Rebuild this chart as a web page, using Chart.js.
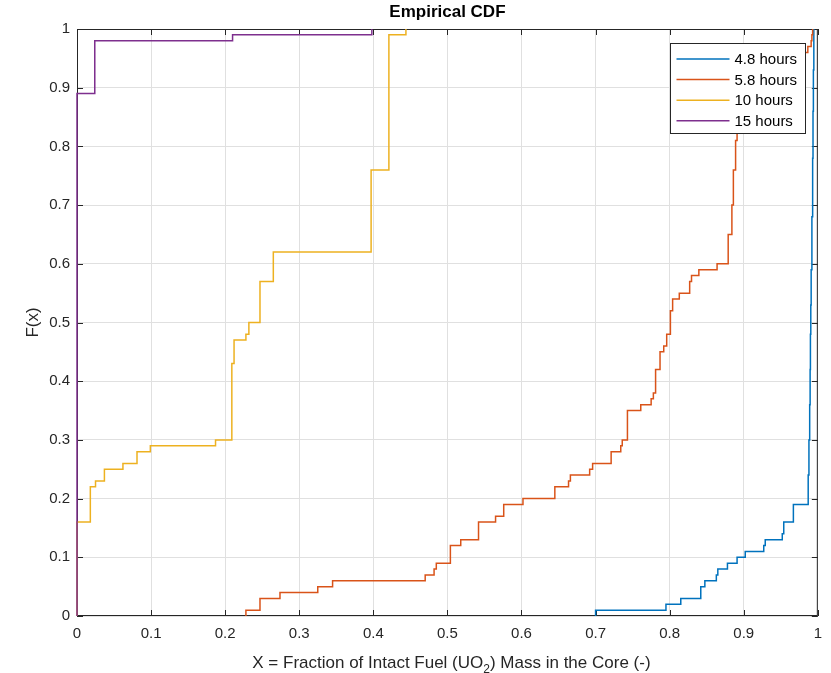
<!DOCTYPE html>
<html>
<head>
<meta charset="utf-8">
<script src="https://cdn.jsdelivr.net/npm/chart.js@4.4.0/dist/chart.umd.min.js"></script>
<style>
  html, body { margin: 0; padding: 0; background: #fff; }
</style>
</head>
<body>
<canvas id="cdf" width="831" height="673"></canvas>
<script>
// empirical CDF of intact fuel fraction, one step curve per time
let seriesLabels = ["4.8 hours", "5.8 hours", "10 hours", "15 hours"];
let seriesColors = ["#0072BD", "#D95319", "#EDB120", "#7E2F8E"];

let h48X = [0.700, 0.700, 0.795, 0.815, 0.842, 0.8475, 0.863, 0.865, 0.878, 0.891, 0.902, 0.927, 0.929, 0.952, 0.954, 0.967, 0.9865,
  0.987, 0.988, 0.989, 0.9896, 0.990, 0.9905, 0.991, 0.992, 0.993, 0.9935, 0.994, 0.9946];
let h48F = [0, 0.01, 0.02, 0.03, 0.05, 0.06, 0.07, 0.08, 0.09, 0.10, 0.11, 0.12, 0.13, 0.14, 0.16, 0.19, 0.19,
  0.24, 0.30, 0.36, 0.42, 0.48, 0.53, 0.59, 0.68, 0.78, 0.86, 0.93, 1.0];

let h58X = [0.228, 0.228, 0.247, 0.274, 0.325, 0.345, 0.470, 0.482, 0.485, 0.504, 0.518, 0.542, 0.565, 0.576, 0.602, 0.645, 0.6635, 0.666,
  0.692, 0.696, 0.721, 0.734, 0.736, 0.743, 0.761, 0.775, 0.778, 0.781, 0.787, 0.792, 0.796, 0.801, 0.804, 0.813, 0.827, 0.8295, 0.8394,
  0.864, 0.879, 0.884, 0.886, 0.889, 0.891, 0.893, 0.900, 0.915, 0.935, 0.955, 0.970, 0.978, 0.9865, 0.991, 0.992, 0.993];
let h58F = [0, 0.01, 0.03, 0.04, 0.05, 0.06, 0.07, 0.08, 0.09, 0.12, 0.13, 0.16, 0.17, 0.19, 0.20, 0.22, 0.23, 0.24,
  0.25, 0.26, 0.28, 0.29, 0.30, 0.35, 0.36, 0.37, 0.38, 0.42, 0.45, 0.46, 0.48, 0.52, 0.54, 0.55, 0.57, 0.58, 0.59,
  0.60, 0.65, 0.70, 0.76, 0.81, 0.84, 0.87, 0.89, 0.91, 0.93, 0.94, 0.95, 0.96, 0.97, 0.98, 0.99, 1.0];

let h10X = [0, 0, 0.018, 0.025, 0.037, 0.062, 0.081, 0.099, 0.187, 0.209, 0.212, 0.228, 0.232, 0.247, 0.265, 0.397, 0.421, 0.444];
let h10F = [0, 0.16, 0.22, 0.23, 0.25, 0.26, 0.28, 0.29, 0.30, 0.43, 0.47, 0.48, 0.50, 0.57, 0.62, 0.76, 0.99, 1.0];

let h15X = [0, 0, 0.024, 0.210, 0.398];
let h15F = [0, 0.89, 0.98, 0.99, 1.0];

let xTickLabels = ["0", "0.1", "0.2", "0.3", "0.4", "0.5", "0.6", "0.7", "0.8", "0.9", "1"];
let yTickLabels = ["0", "0.1", "0.2", "0.3", "0.4", "0.5", "0.6", "0.7", "0.8", "0.9", "1"];

const FONT = '"Liberation Sans", Arial, Helvetica, sans-serif';
const AXIS_COLOR = "#262626";
const GRID_COLOR = "#e0e0e0";

function toPoints(xs, fs) {
  return xs.map((x, i) => ({ x: x, y: fs[i] }));
}

let curves = [[h48X, h48F], [h58X, h58F], [h10X, h10F], [h15X, h15F]];
let datasets = curves.map((c, i) => ({
  label: seriesLabels[i],
  data: toPoints(c[0], c[1]),
  borderColor: seriesColors[i],
  backgroundColor: seriesColors[i],
  borderWidth: 1.5,
  pointRadius: 0,
  stepped: true,
  fill: false,
  clip: 3,
  order: 3 - i
}));

// box round the axes with inward ticks on all four sides
const axesBox = {
  id: "axesBox",
  beforeDatasetsDraw(chart) {
    const { ctx, chartArea: a, scales } = chart;
    ctx.save();
    ctx.strokeStyle = AXIS_COLOR;
    ctx.lineWidth = 1;
    ctx.strokeRect(a.left + 0.5, a.top + 0.5, a.right - a.left - 1, a.bottom - a.top - 1);
    ctx.beginPath();
    scales.x.ticks.forEach(t => {
      let px = Math.round(scales.x.getPixelForValue(t.value)) + 0.5;
      ctx.moveTo(px, a.bottom); ctx.lineTo(px, a.bottom - 6);
      ctx.moveTo(px, a.top); ctx.lineTo(px, a.top + 6);
    });
    scales.y.ticks.forEach(t => {
      let py = Math.round(scales.y.getPixelForValue(t.value)) + 0.5;
      ctx.moveTo(a.left, py); ctx.lineTo(a.left + 6, py);
      ctx.moveTo(a.right, py); ctx.lineTo(a.right - 6, py);
    });
    ctx.stroke();
    ctx.restore();
  }
};

// legend box in the upper right corner of the axes
const cdfLegend = {
  id: "cdfLegend",
  afterDatasetsDraw(chart) {
    const ctx = chart.ctx;
    const bx = 670.5, by = 43.5, bw = 135, bh = 90;
    ctx.save();
    ctx.fillStyle = "#fff";
    ctx.fillRect(bx, by, bw, bh);
    ctx.strokeStyle = AXIS_COLOR;
    ctx.lineWidth = 1;
    ctx.strokeRect(bx, by, bw, bh);
    ctx.font = "15px " + FONT;
    ctx.textBaseline = "middle";
    ctx.fillStyle = "#000";
    chart.data.datasets.forEach((ds, i) => {
      let y = by + 15.5 + i * 20.6;
      ctx.strokeStyle = ds.borderColor;
      ctx.lineWidth = 1.5;
      ctx.beginPath();
      ctx.moveTo(bx + 6, y); ctx.lineTo(bx + 59, y);
      ctx.stroke();
      ctx.fillText(ds.label, bx + 64, y + 1);
    });
    ctx.restore();
  }
};

// axis titles, the x one with a subscript
const axisTitles = {
  id: "axisTitles",
  afterDraw(chart) {
    const ctx = chart.ctx;
    const a = chart.chartArea;
    ctx.save();
    ctx.fillStyle = "#262626";
    ctx.textBaseline = "alphabetic";
    let big = "17px " + FONT, small = "12px " + FONT;
    let p1 = "X = Fraction of Intact Fuel (UO", sub = "2", p2 = ") Mass in the Core (-)";
    ctx.font = big;
    let w1 = ctx.measureText(p1).width, w2 = ctx.measureText(p2).width;
    ctx.font = small;
    let ws = ctx.measureText(sub).width;
    let x0 = (a.left + a.right) / 2 - (w1 + ws + w2) / 2 + 4;
    let base = 668;
    ctx.font = big;
    ctx.fillText(p1, x0, base);
    ctx.font = small;
    ctx.fillText(sub, x0 + w1, base + 5);
    ctx.font = big;
    ctx.fillText(p2, x0 + w1 + ws, base);

    ctx.translate(38, (a.top + a.bottom) / 2);
    ctx.rotate(-Math.PI / 2);
    ctx.textAlign = "center";
    ctx.font = big;
    ctx.fillText("F(x)", 0, 0);
    ctx.restore();
  }
};

const ctx = document.getElementById("cdf");
const chart = new Chart(ctx, {
  type: "line",
  data: { datasets: datasets },
  options: {
    responsive: false,
    animation: false,
    events: [],
    layout: { padding: { left: 0, right: 11, top: 0, bottom: 0 } },
    scales: {
      x: {
        type: "linear", min: 0, max: 1,
        ticks: {
          stepSize: 0.1, autoSkip: false, maxRotation: 0, padding: 9,
          color: AXIS_COLOR, font: { family: FONT, size: 15 },
          callback: (v, i) => xTickLabels[i]
        },
        grid: { color: GRID_COLOR, drawTicks: false },
        border: { display: false },
        afterFit: s => { s.height = 57; }
      },
      y: {
        type: "linear", min: 0, max: 1,
        ticks: {
          stepSize: 0.1, autoSkip: false, padding: 7,
          color: AXIS_COLOR, font: { family: FONT, size: 15 },
          callback: (v, i) => yTickLabels[i]
        },
        grid: { color: GRID_COLOR, drawTicks: false },
        border: { display: false },
        afterFit: s => { s.width = 77; }
      }
    },
    plugins: {
      legend: { display: false },
      tooltip: { enabled: false },
      title: {
        display: true, text: "Empirical CDF", fullSize: false,
        color: "#000", font: { family: FONT, size: 17, weight: "bold" },
        padding: { top: 2, bottom: 6.6 }
      }
    }
  },
  plugins: [axesBox, cdfLegend, axisTitles]
});
</script>
</body>
</html>
